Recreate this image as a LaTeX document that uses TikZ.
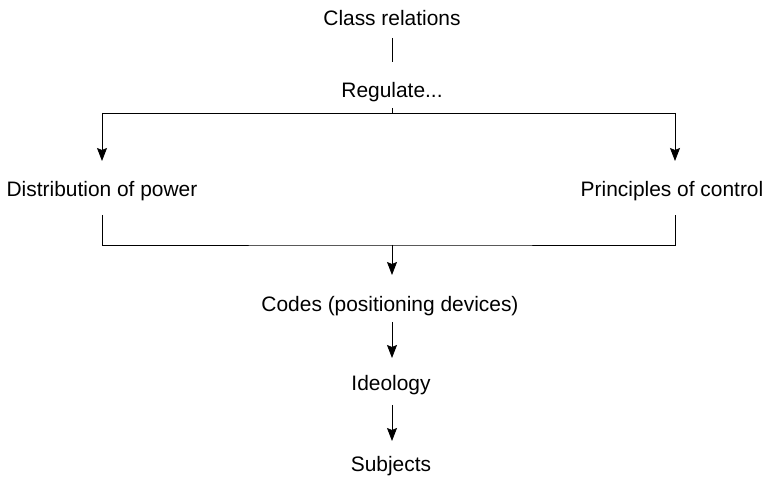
\documentclass[tikz,border=0pt]{standalone}
\usepackage{fontspec}
\setmainfont{Liberation Sans}
\usetikzlibrary{arrows.meta}
\begin{document}
\begin{tikzpicture}[x=0.5bp,y=-0.5bp,thin,>={Stealth[length=6.5bp,width=5bp,inset=1bp]},
    every node/.style={font=\fontsize{10.5}{13}\selectfont,inner sep=0pt,anchor=base}]
    \useasboundingbox(0,0)rectangle(769,477);
    \path(392,26)node(C){Class relations}(392,98)node(R){Regulate...}
    (102,197)node(D){Distribution of power}(672,197)node(P){Principles of control}
    (390,312)node(K){Codes (positioning devices)}(391,391)node(I){Ideology}(391,472)node(S){Subjects};
    \path(392,38)coordinate(C1)(392,62)coordinate(C2)(392,108)coordinate(R1)(392,113)coordinate(R2)
    (102,113)coordinate(A)(675,113)coordinate(B)(102,161)coordinate(A')(675,161)coordinate(B')
    (102,215)coordinate(E)(675,215)coordinate(F)(392,245)coordinate(M)(392,275)coordinate(M')
    (392,322)coordinate(K1)(392,358)coordinate(K2)(392,405)coordinate(I1)(392,441)coordinate(I2);
    \draw(C1)--(C2) (R1)--(R2) (A)--(B);
    \draw[->](A)--(A');
    \draw[->](B)--(B');
    \draw(E)|-(M)-|(F);
    \draw[->](M)--(M');
    \draw[->](K1)--(K2);
    \draw[->](I1)--(I2);
\end{tikzpicture}
\end{document}
